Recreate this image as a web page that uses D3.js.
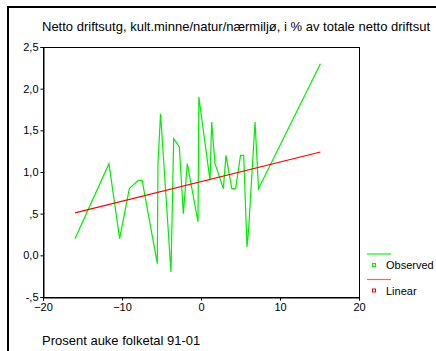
<!DOCTYPE html>
<html>
<head>
<meta charset="utf-8">
<script src="https://cdn.jsdelivr.net/npm/d3@7"></script>
<style>
  html, body { margin: 0; padding: 0; background: #fff; }
  svg { display: block; font-family: "Liberation Sans", Arial, sans-serif; }
</style>
</head>
<body>
<svg id="chart" width="436" height="351"></svg>
<script>
// Population growth 1991-2001 (%) against net operating spending share
const growthPct = [-15.95, -11.65, -10.3, -9.07, -7.93, -7.45, -5.53, -5.45, -5.12, -3.8, -3.46,
  -2.74, -2.24, -1.73, -0.38, -0.27, 1.14, 1.35, 1.77, 2.83, 3.16, 3.9, 4.39, 5.0, 5.4,
  5.82, 6.02, 6.84, 7.28, 15.12];
const spendingPct = [0.2, 1.1, 0.2, 0.8, 0.9, 0.9, -0.1, 1.1, 1.7, -0.2, 1.4,
  1.3, 0.5, 1.1, 0.4, 1.9, 0.9, 1.6, 1.1, 0.8, 1.2, 0.8, 0.8, 1.2, 1.2,
  0.1, 0.3, 1.6, 0.8, 2.3];

// Fitted linear trend, end points
const fitX = [-15.95, 15.12];
const fitY = [0.51, 1.24];

const xTicks = [-20, -10, 0, 10, 20];
const yTicks = [-0.5, 0, 0.5, 1, 1.5, 2, 2.5];
const yTickLabels = ["-,5", "0,0", ",5", "1,0", "1,5", "2,0", "2,5"];
const legendLabels = ["Observed", "Linear"];
const legendColors = ["#00ee00", "#ff0000"];

(function () {
  const svg = d3.select("#chart");
  const plotL = 43, plotR = 359, plotT = 47, plotB = 297;

  const x = d3.scaleLinear().domain([-20, 20]).range([plotL, plotR]);
  const y = d3.scaleLinear().domain([-0.5, 2.5]).range([plotB, plotT]);

  // outer frame
  svg.append("path")
    .attr("d", "M8,360 V7 H445")
    .attr("fill", "none").attr("stroke", "#000").attr("stroke-width", 2);

  // title
  svg.append("text").attr("x", 42).attr("y", 31)
    .attr("font-size", 13).attr("fill", "#000")
    .text("Netto driftsutg, kult.minne/natur/nærmiljø, i % av totale netto driftsut");

  // plot box
  svg.append("rect").attr("x", plotL + 0.5).attr("y", plotT + 0.5)
    .attr("width", plotR - plotL).attr("height", plotB - plotT)
    .attr("fill", "none").attr("stroke", "#000").attr("stroke-width", 1);

  const xAxis = svg.append("g").attr("transform", `translate(0,${plotB + 0.5})`)
    .call(d3.axisBottom(x).tickValues(xTicks).tickSize(3).tickPadding(3).tickFormat(d3.format("d")));
  const yAxis = svg.append("g").attr("transform", `translate(${plotL + 0.5},0)`)
    .call(d3.axisLeft(y).tickValues(yTicks).tickSize(3).tickPadding(2)
      .tickFormat((d, i) => yTickLabels[i]));
  [xAxis, yAxis].forEach(g => {
    g.select(".domain").attr("stroke", "#000");
    g.selectAll(".tick line").attr("stroke", "#000");
    g.selectAll("text").attr("font-size", 11).attr("fill", "#000")
      .attr("font-family", "Liberation Sans, Arial, sans-serif");
  });

  // observed series
  const pts = growthPct.map((g, i) => [g, spendingPct[i]]);
  const line = d3.line().x(d => x(d[0])).y(d => y(d[1]));
  svg.append("path").datum(pts).attr("d", line)
    .attr("fill", "none").attr("stroke", legendColors[0]).attr("stroke-width", 1.2)
    .attr("stroke-linejoin", "miter");

  // linear fit
  const fit = fitX.map((g, i) => [g, fitY[i]]);
  svg.append("path").datum(fit).attr("d", line)
    .attr("fill", "none").attr("stroke", legendColors[1]).attr("stroke-width", 1.2);

  // x axis title
  svg.append("text").attr("x", 42).attr("y", 345)
    .attr("font-size", 13).attr("fill", "#000").text("Prosent auke folketal 91-01");

  // legend
  const legend = svg.append("g");
  legendLabels.forEach((lab, i) => {
    const oy = 254 + i * 25.5;
    legend.append("line").attr("x1", 367).attr("x2", 391).attr("y1", oy).attr("y2", oy)
      .attr("stroke", legendColors[i]).attr("stroke-width", 1.2).attr("opacity", i ? 0.6 : 0.9);
    legend.append("rect").attr("x", 372.5).attr("y", oy + 9.5).attr("width", 3).attr("height", 3)
      .attr("fill", "none").attr("stroke", legendColors[i]).attr("stroke-width", 1);
    legend.append("text").attr("x", 386).attr("y", oy + 15)
      .attr("font-size", 11).attr("fill", "#000").text(lab);
  });
})();
</script>
</body>
</html>
